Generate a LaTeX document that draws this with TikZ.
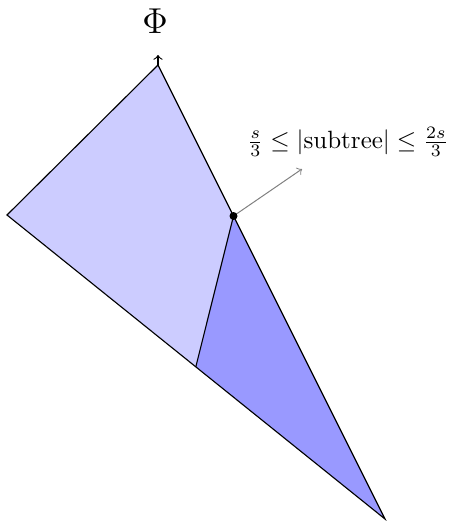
\documentclass[tikz,border=0pt]{standalone}
\usepackage{amsmath}
\usetikzlibrary{calc}
\tikzset{
  edge/.style={draw=black, line width=0.45pt},
  pointer/.style={draw=gray, line width=0.4pt, ->},
}
\begin{document}
\begin{tikzpicture}[x=0.4pt, y=-0.4pt]
\useasboundingbox (0,0) rectangle (455,521);
\coordinate (T) at (158,65);
\coordinate (L) at (7,215);
\coordinate (B) at (385,519);
\coordinate (P) at ($(T)!0.3326!(B)$);
\coordinate (Q) at ($(L)!0.4995!(B)$);
\coordinate (Tup) at (158,55);
\coordinate (Pend) at (302,169);
\fill[blue!20] (T) -- (L) -- (Q) -- (P) -- cycle;
\fill[blue!40] (P) -- (Q) -- (B) -- cycle;
\draw[edge] (T) -- (L) -- (B) -- (P) -- (T);
\draw[edge] (P) -- (Q);
\draw[edge, ->] (T) -- (Tup);
\draw[pointer] (P) -- (Pend);
\fill (P) circle (1.6pt);
\node (phi) at (155,21) {\Large $\Phi$};
\node (lab) at (348,142) {$\frac{s}{3} \le |\text{subtree}| \le \frac{2s}{3}$};
\end{tikzpicture}
\end{document}
